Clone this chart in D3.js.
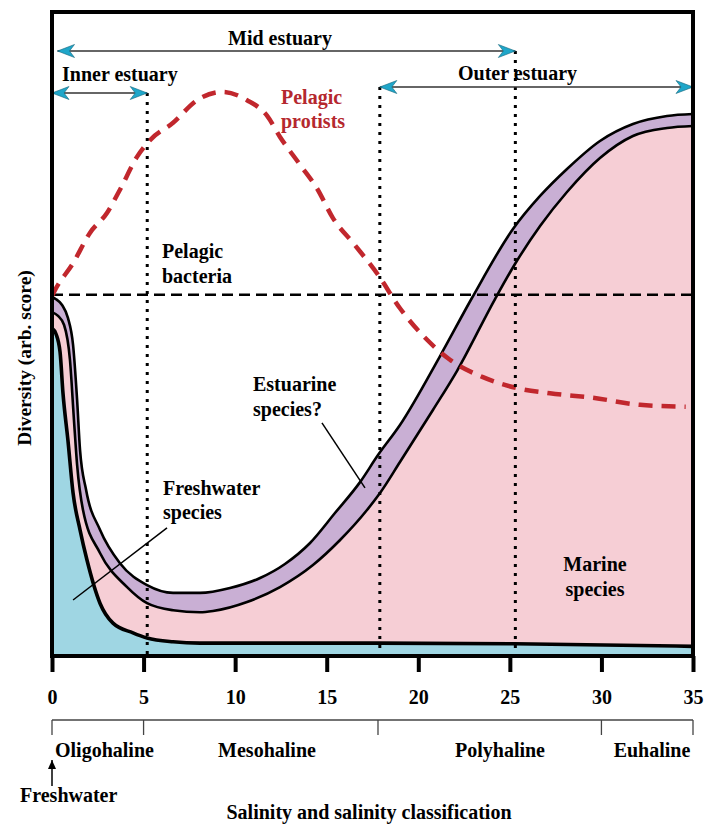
<!DOCTYPE html>
<html><head><meta charset="utf-8">
<script src="https://cdn.jsdelivr.net/npm/d3@7"></script>
<style>
html,body{margin:0;padding:0;background:#fff;}
text{font-family:"Liberation Serif","DejaVu Serif",serif;font-weight:bold;}
</style></head>
<body><svg id="c" width="709" height="824"></svg>
<script>
// ---- data (salinity, arbitrary diversity score 0-100) ----
const totalSal   = [0,0.22,0.55,0.87,1.15,1.37,1.53,1.86,2.62,3.71,5.19,6.61,8.08,9.72,11.36,12.72,14.09,15.45,16.82,17.8,19.0,21.19,22.93,25.17,26.65,28.12,29.92,31.72,33.58,35];
const totalDiv   = [55.7,55.4,54.5,52.5,48.3,39.8,32.0,25.8,19.6,14.4,11.0,9.8,9.8,10.56,12.11,14.29,17.55,22.2,27.0,31.2,35.87,46.58,55.59,66.3,71.43,75.62,79.97,82.61,83.85,84.16];
const marineSal  = [0,0.33,0.66,0.98,1.2,1.37,1.69,2.62,4.1,5.19,6.61,8.08,8.79,10.65,12.45,14.25,15.73,17.2,17.91,19.0,20.8,22.11,24.19,25.28,26.65,28.12,29.92,31.72,33.58,35];
const marineDiv  = [53.4,52.8,51.4,46.0,36.6,29.7,22.7,16.0,10.7,8.2,7.1,6.8,6.99,8.39,10.71,14.13,18.01,22.67,25.31,30.12,38.2,44.25,55.43,60.87,66.77,72.05,77.33,80.75,81.99,82.3];
const freshSal   = [0,0.22,0.44,0.6,0.87,1.15,1.53,1.91,2.62,3.33,4.42,5.19,6.61,8.08,11.52,17.8,25.28,35];
const freshDiv   = [50.9,50.0,47.2,40.8,33.5,25.3,19.6,14.9,8.2,5.1,3.6,2.8,2.2,2.0,2.0,2.0,1.9,1.5];
const protistSal = [0,0.16,1.15,2.07,3.0,3.71,4.64,5.35,6.61,7.92,9.34,10.65,11.74,12.45,13.54,14.47,15.34,16.54,17.8,19.0,20.48,21.73,23.53,25.39,27.19,29.54,32.11,34.6];
const protistDiv = [55.9,56.8,61.0,65.7,68.8,72.4,77.5,80.1,82.8,86.3,87.6,86.3,83.9,80.6,76.3,72.6,68.0,63.8,59.2,54.0,49.1,46.0,43.3,41.6,40.8,40.1,39.0,38.7];
const bacteriaDiv = 56.1;
const zoneBounds = [5.2, 17.9, 25.3];              // dotted zone limits
const zones = [{name:"Inner estuary", from:0, to:5.2}, {name:"Mid estuary", from:0.3, to:25.3}, {name:"Outer estuary", from:17.9, to:35}];
const xTicks = [0,5,10,15,20,25,30,35];
const classBounds = [0,5,17.8,30,35];
const classNames = ["Oligohaline","Mesohaline","Polyhaline","Euhaline"];

// ---- layout ----
const svg = d3.select("#c");
const x = d3.scaleLinear([0,35],[52,693]);
const y = d3.scaleLinear([0,100],[656,12]);
const zip = (a,b)=>a.map((v,i)=>[v,b[i]]);
const FS = 20;

const defs = svg.append("defs");
defs.append("clipPath").attr("id","clip").append("rect")
  .attr("x",x(0)).attr("y",y(100)).attr("width",x(35)-x(0)).attr("height",y(0)-y(100));
defs.append("marker").attr("id","cy").attr("viewBox","-18 -8 20 16")
  .attr("markerUnits","userSpaceOnUse").attr("markerWidth",20).attr("markerHeight",16)
  .attr("refX",0).attr("refY",0).attr("orient","auto-start-reverse")
  .append("path").attr("d","M0,0 L-17,-6.5 L-12,0 L-17,6.5 Z").attr("fill","#1fa6c9").attr("stroke","#13657a").attr("stroke-width",0.6);
defs.append("marker").attr("id","bk").attr("viewBox","-10 -6 12 12")
  .attr("markerUnits","userSpaceOnUse").attr("markerWidth",12).attr("markerHeight",12)
  .attr("refX",0).attr("refY",0).attr("orient","auto")
  .append("path").attr("d","M0,0 L-9,-4 L-9,4 Z").attr("fill","#000");

const g = svg.append("g").attr("clip-path","url(#clip)");
const area = d3.area().x(d=>x(d[0])).y0(y(0)).y1(d=>y(d[1])).curve(d3.curveMonotoneX);
const line = d3.line().x(d=>x(d[0])).y(d=>y(d[1])).curve(d3.curveMonotoneX);

const total = zip(totalSal,totalDiv), marine = zip(marineSal,marineDiv), fresh = zip(freshSal,freshDiv), prot = zip(protistSal,protistDiv);
g.append("path").attr("d",area(total)).attr("fill","#c9afd4");
g.append("path").attr("d",area(marine)).attr("fill","#f6ced5");
g.append("path").attr("d",area(fresh)).attr("fill","#9fd6e3");
g.append("path").attr("d",line(total)).attr("fill","none").attr("stroke","#000").attr("stroke-width",2.6);
g.append("path").attr("d",line(marine)).attr("fill","none").attr("stroke","#000").attr("stroke-width",2.6);
g.append("path").attr("d",line(fresh)).attr("fill","none").attr("stroke","#000").attr("stroke-width",3.6);

// bacteria
g.append("line").attr("x1",x(0)).attr("x2",x(35)).attr("y1",y(bacteriaDiv)).attr("y2",y(bacteriaDiv))
  .attr("stroke","#000").attr("stroke-width",2.4).attr("stroke-dasharray","11,6");
// protists
g.append("path").attr("d",line(prot)).attr("fill","none").attr("stroke","#c1272d").attr("stroke-width",4.5).attr("stroke-dasharray","14,9");

// dotted zone limits
const topY = {5.2: 93, 17.9: 87, 25.3: 51};
zoneBounds.forEach(b=>{
  svg.append("line").attr("x1",x(b)).attr("x2",x(b)).attr("y1",topY[b]).attr("y2",y(0)-2)
    .attr("stroke","#000").attr("stroke-width",3).attr("stroke-dasharray","3,6");
});

// zone arrows
const arrowY = {"Inner estuary":93, "Mid estuary":51, "Outer estuary":87};
zones.forEach(z=>{
  svg.append("line").attr("x1",x(z.from)).attr("x2",x(z.to)).attr("y1",arrowY[z.name]).attr("y2",arrowY[z.name])
    .attr("stroke","#333").attr("stroke-width",1.6).attr("marker-start","url(#cy)").attr("marker-end","url(#cy)");
});

// frame
svg.append("rect").attr("x",x(0)).attr("y",y(100)).attr("width",x(35)-x(0)).attr("height",y(0)-y(100))
  .attr("fill","none").attr("stroke","#000").attr("stroke-width",4);

// x axis
const ax = svg.append("g").attr("transform",`translate(0,${y(0)})`)
  .call(d3.axisBottom(x).tickValues(xTicks).tickSize(16).tickFormat(d3.format("d")));
ax.select(".domain").remove();
ax.selectAll(".tick line").attr("stroke","#000").attr("stroke-width",4);
ax.selectAll(".tick text").attr("y",48).attr("dy",0).attr("font-size",FS).attr("fill","#000")
  .style("font-family",'"Liberation Serif",serif').style("font-weight","bold");

// classification bracket
const bY = 720;
svg.append("line").attr("x1",x(0)).attr("x2",x(35)).attr("y1",bY).attr("y2",bY).attr("stroke","#444").attr("stroke-width",1.3);
classBounds.forEach(b=>svg.append("line").attr("x1",x(b)).attr("x2",x(b)).attr("y1",bY).attr("y2",bY+15).attr("stroke","#444").attr("stroke-width",1.3));
const classX = [[55,"start"],[267,"middle"],[500,"middle"],[652,"middle"]];
classNames.forEach((n,i)=>svg.append("text").attr("x",classX[i][0]).attr("y",757).attr("text-anchor",classX[i][1]).attr("font-size",FS).text(n));

svg.append("line").attr("x1",x(0)).attr("x2",x(0)).attr("y1",786).attr("y2",760).attr("stroke","#000").attr("stroke-width",1.5).attr("marker-end","url(#bk)");
svg.append("text").attr("x",20).attr("y",802).attr("font-size",FS).text("Freshwater");
svg.append("text").attr("x",369).attr("y",819).attr("text-anchor","middle").attr("font-size",FS).text("Salinity and salinity classification");

// y label
svg.append("text").attr("transform","translate(31,358) rotate(-90)").attr("text-anchor","middle").attr("font-size",19.5).text("Diversity (arb. score)");

// labels
const lab = (t,xx,yy,opt={})=>svg.append("text").attr("x",xx).attr("y",yy).attr("font-size",FS)
  .attr("text-anchor",opt.anchor||"start").attr("fill",opt.fill||"#000").text(t);
lab("Mid estuary",280,45,{anchor:"middle"});
lab("Inner estuary",62,81);
lab("Outer estuary",458,80);
lab("Pelagic",281,104,{fill:"#b5282e"});
lab("protists",281,128,{fill:"#b5282e"});
lab("Pelagic",162,258);
lab("bacteria",162,283);
lab("Estuarine",253,391);
lab("species?",253,416);
lab("Freshwater",163,495);
lab("species",163,519);
lab("Marine",595,571,{anchor:"middle"});
lab("species",595,596,{anchor:"middle"});

// leader lines (data units)
const leaders = [[[6.28,19.9],[1.15,8.7]], [[14.74,36.2],[17.09,26.1]]];
leaders.forEach(l=>svg.append("line").attr("x1",x(l[0][0])).attr("y1",y(l[0][1])).attr("x2",x(l[1][0])).attr("y2",y(l[1][1]))
  .attr("stroke","#000").attr("stroke-width",1.5));
</script></body></html>
